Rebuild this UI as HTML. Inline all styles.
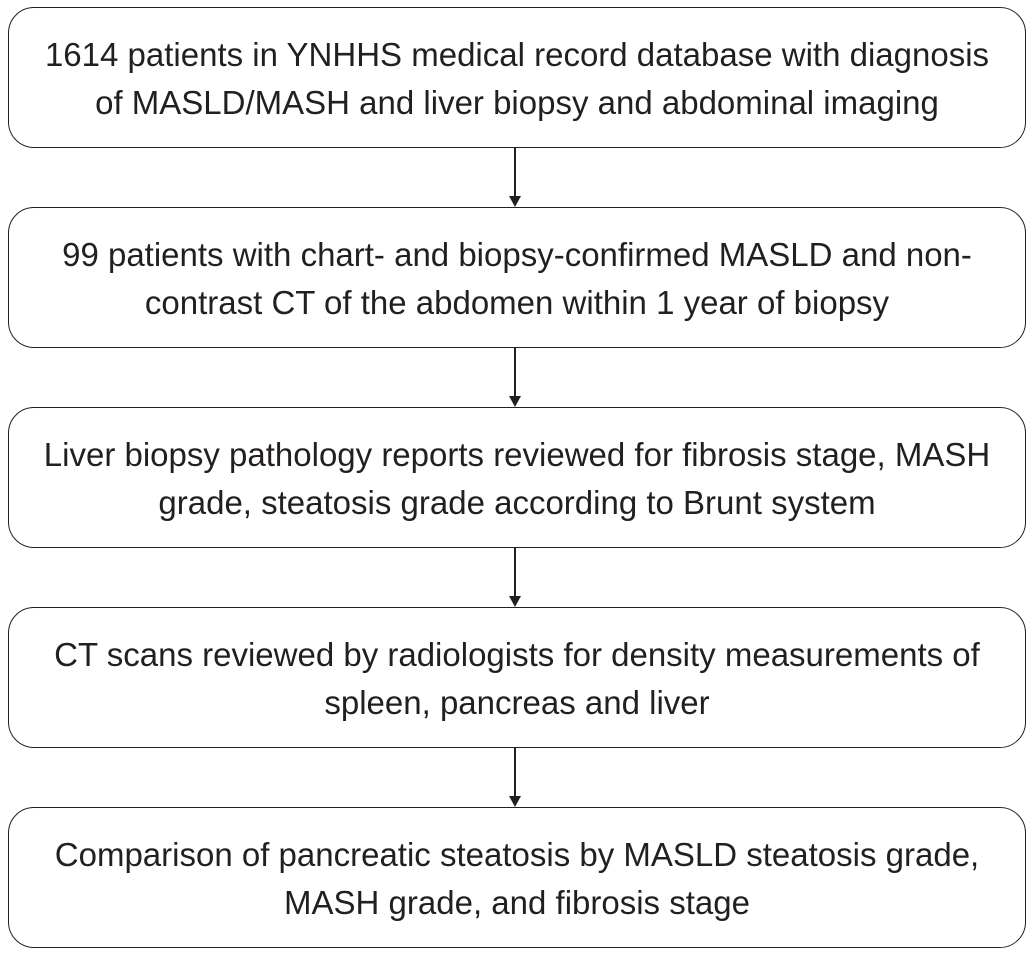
<!DOCTYPE html>
<html><head><style>
body{margin:0;width:1032px;height:957px;background:#fff;position:relative;font-family:"Liberation Sans","DejaVu Sans",sans-serif;color:#231f20}
.b{position:absolute;left:8px;width:1018px;height:141px;border:1.5px solid #231f20;border-radius:26px;box-sizing:border-box;display:flex;flex-direction:column;justify-content:center;align-items:center;font-size:33px;line-height:48px;padding-top:3px}
.b div{white-space:nowrap}
.a{position:absolute;left:514px;width:1.5px;background:#231f20;height:48px}
.h{position:absolute;left:509px;width:0;height:0;border-left:6px solid transparent;border-right:6px solid transparent;border-top:11px solid #231f20}
</style></head><body>
<div class="b" style="top:7px"><div>1614 patients in YNHHS medical record database with diagnosis</div><div>of MASLD/MASH and liver biopsy and abdominal imaging</div></div>
<div class="b" style="top:207px"><div>99 patients with chart- and biopsy-confirmed MASLD and non-</div><div>contrast CT of the abdomen within 1 year of biopsy</div></div>
<div class="b" style="top:407px"><div>Liver biopsy pathology reports reviewed for fibrosis stage, MASH</div><div>grade, steatosis grade according to Brunt system</div></div>
<div class="b" style="top:607px"><div>CT scans reviewed by radiologists for density measurements of</div><div>spleen, pancreas and liver</div></div>
<div class="b" style="top:807px"><div>Comparison of pancreatic steatosis by MASLD steatosis grade,</div><div>MASH grade, and fibrosis stage</div></div>
<div class="a" style="top:148px"></div><div class="h" style="top:196px"></div>
<div class="a" style="top:348px"></div><div class="h" style="top:396px"></div>
<div class="a" style="top:548px"></div><div class="h" style="top:596px"></div>
<div class="a" style="top:748px"></div><div class="h" style="top:796px"></div>
</body></html>
